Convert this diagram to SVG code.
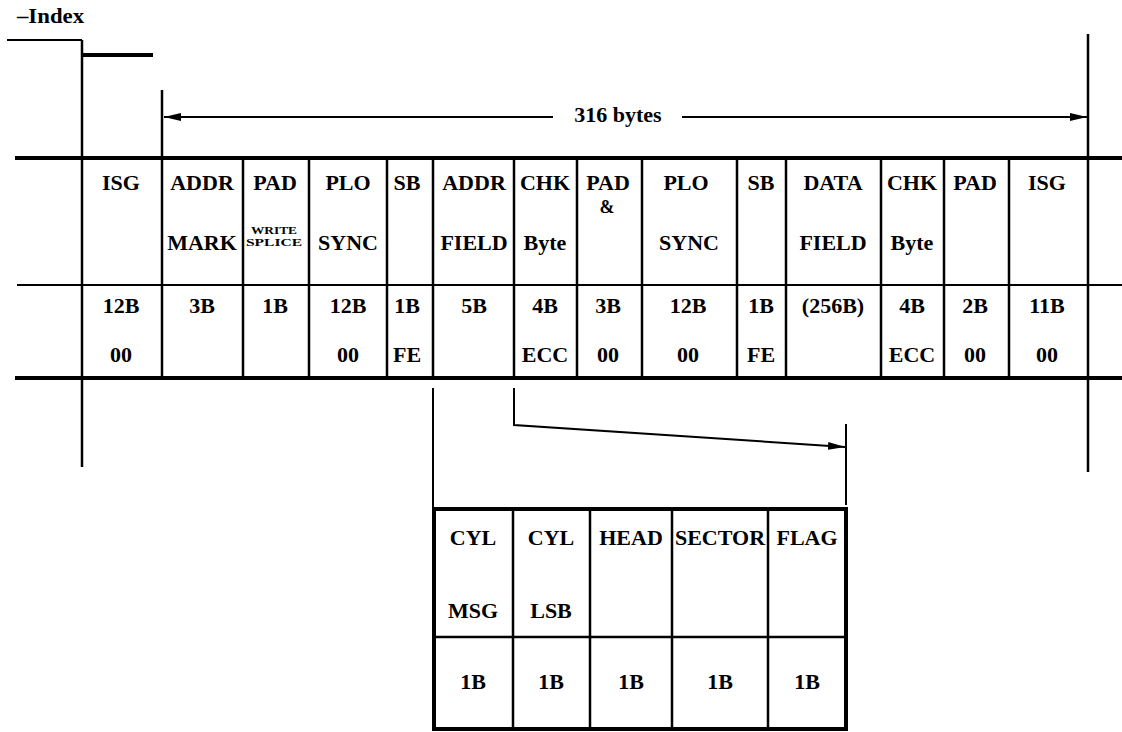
<svg xmlns="http://www.w3.org/2000/svg" width="1122" height="732" viewBox="0 0 1122 732">
<style>
text{font-family:"Liberation Serif","Times New Roman",serif;font-weight:bold;fill:#000;text-anchor:middle}
.t{font-size:22px}
.s{font-size:11px}
.ln{stroke:#000;stroke-width:2.5;fill:none}
.thin{stroke:#000;stroke-width:2;fill:none}
.thick{stroke:#000;stroke-width:4;fill:none}
</style>
<defs>
<marker id="ah" markerUnits="userSpaceOnUse" markerWidth="18" markerHeight="10" refX="17" refY="5" orient="auto">
<path d="M0,1 L17,5 L0,9 z" fill="#000"/>
</marker>
</defs>
<rect width="1122" height="732" fill="#fff"/>

<text x="17" y="23" class="t" style="text-anchor:start;font-size:22px" textLength="67" lengthAdjust="spacingAndGlyphs">–Index</text>

<g id="connectors">
<path class="thin" d="M7,40 H82"/>
<path class="ln" d="M82,40 V467"/>
<path class="thick" d="M83,55 H153"/>
<path class="ln" d="M162,90 V378"/>
<path class="ln" d="M1088,34 V472"/>
<path class="thin" d="M553,117 H164" marker-end="url(#ah)"/>
<path class="thin" d="M682,117 H1087" marker-end="url(#ah)"/>
<text x="618" y="122" class="t">316 bytes</text>
<path class="thin" d="M433,388 V508"/>
<path class="thin" d="M514,388 V425 L845,447" marker-end="url(#ah)"/>
<path class="thin" d="M846,424 V505"/>
</g>

<g id="track">
<path class="thick" d="M15,158 H1122"/>
<path class="thin" d="M17,285 H1122"/>
<path class="thick" d="M15,378 H1122"/>
<path class="ln" d="M243,158 V378 M309,158 V378 M387,158 V378 M433,158 V378 M514,158 V378 M577,158 V378 M642,158 V378 M737,158 V378 M786,158 V378 M881,158 V378 M944,158 V378 M1009,158 V378"/>
</g>

<g id="c1-isg"><text x="121" y="190" class="t">ISG</text><text x="121" y="313" class="t">12B</text><text x="121" y="362" class="t">00</text></g>
<g id="c2-addr-mark"><text x="202" y="190" class="t">ADDR</text><text x="202" y="250" class="t">MARK</text><text x="202" y="313" class="t">3B</text></g>
<g id="c3-pad"><text x="275" y="190" class="t">PAD</text><text x="274" y="234" class="s" textLength="46" lengthAdjust="spacingAndGlyphs">WRITE</text><text x="274" y="246" class="s" textLength="56" lengthAdjust="spacingAndGlyphs">SPLICE</text><text x="275" y="313" class="t">1B</text></g>
<g id="c4-plo"><text x="348" y="190" class="t">PLO</text><text x="348" y="250" class="t">SYNC</text><text x="348" y="313" class="t">12B</text><text x="348" y="362" class="t">00</text></g>
<g id="c5-sb"><text x="407" y="190" class="t">SB</text><text x="407" y="313" class="t">1B</text><text x="407" y="362" class="t">FE</text></g>
<g id="c6-addr-field"><text x="474" y="190" class="t">ADDR</text><text x="474" y="250" class="t">FIELD</text><text x="474" y="313" class="t">5B</text></g>
<g id="c7-chk"><text x="545" y="190" class="t">CHK</text><text x="545" y="250" class="t">Byte</text><text x="545" y="313" class="t">4B</text><text x="545" y="362" class="t">ECC</text></g>
<g id="c8-pad"><text x="608" y="190" class="t">PAD</text><text x="607" y="213" class="t" style="font-size:18px">&amp;</text><text x="608" y="313" class="t">3B</text><text x="608" y="362" class="t">00</text></g>
<g id="c9-plo"><text x="686" y="190" class="t">PLO</text><text x="689" y="250" class="t">SYNC</text><text x="688" y="313" class="t">12B</text><text x="688" y="362" class="t">00</text></g>
<g id="c10-sb"><text x="761" y="190" class="t">SB</text><text x="761" y="313" class="t">1B</text><text x="761" y="362" class="t">FE</text></g>
<g id="c11-data"><text x="833" y="190" class="t">DATA</text><text x="833" y="250" class="t">FIELD</text><text x="833" y="313" class="t">(256B)</text></g>
<g id="c12-chk"><text x="912" y="190" class="t">CHK</text><text x="912" y="250" class="t">Byte</text><text x="912" y="313" class="t">4B</text><text x="912" y="362" class="t">ECC</text></g>
<g id="c13-pad"><text x="975" y="190" class="t">PAD</text><text x="975" y="313" class="t">2B</text><text x="975" y="362" class="t">00</text></g>
<g id="c14-isg"><text x="1047" y="190" class="t">ISG</text><text x="1047" y="313" class="t">11B</text><text x="1047" y="362" class="t">00</text></g>

<g id="addr-field-detail">
<rect x="434" y="509" width="412" height="220" class="thick"/>
<path class="ln" d="M434,637 H846 M513,509 V729 M590,509 V729 M672,509 V729 M768,509 V729"/>
</g>
<g id="d1-cyl-msg"><text x="473" y="545" class="t">CYL</text><text x="473" y="618" class="t">MSG</text><text x="473" y="689" class="t">1B</text></g>
<g id="d2-cyl-lsb"><text x="551" y="545" class="t">CYL</text><text x="551" y="618" class="t">LSB</text><text x="551" y="689" class="t">1B</text></g>
<g id="d3-head"><text x="631" y="545" class="t">HEAD</text><text x="631" y="689" class="t">1B</text></g>
<g id="d4-sector"><text x="720" y="545" class="t">SECTOR</text><text x="720" y="689" class="t">1B</text></g>
<g id="d5-flag"><text x="807" y="545" class="t">FLAG</text><text x="807" y="689" class="t">1B</text></g>
</svg>
